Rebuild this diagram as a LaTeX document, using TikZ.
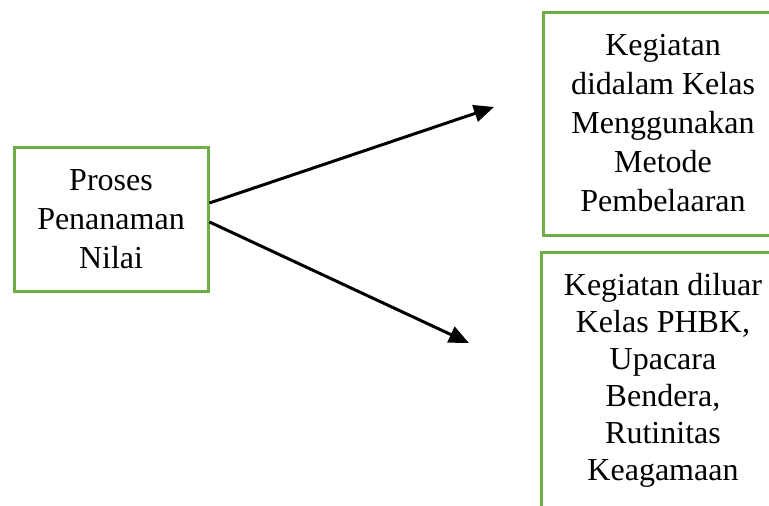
\documentclass[tikz,border=0pt]{standalone}
\usepackage{fontspec}
\setmainfont{Liberation Serif}
\usetikzlibrary{arrows.meta}
\definecolor{hijau}{RGB}{112,173,71}
\begin{document}
\begin{tikzpicture}[x=1pt,y=-1pt,
  kotak/.style={draw=hijau,line width=3pt,align=center,inner sep=0pt,
    font=\fontsize{32}{39}\selectfont},
  panah/.style={line width=3pt,-{Triangle[length=20pt,width=17pt]}}]
  \useasboundingbox (0,0) rectangle (769,506);
  \clip (0,0) rectangle (769,506);
  % kotak
  \node[kotak,minimum width=194pt,minimum height=144pt] (proses) at (111,219)
    {Proses\\Penanaman\\Nilai};
  \node[kotak,minimum width=240pt,minimum height=223pt] (dalam) at (663,123.5)
    {Kegiatan\\didalam Kelas\\Menggunakan\\Metode\\Pembelaaran};
  \node[kotak,minimum width=244pt,minimum height=256pt,
    font=\fontsize{32}{37}\selectfont] (luar) at (663,380)
    {Kegiatan diluar\\Kelas PHBK,\\Upacara\\Bendera,\\Rutinitas\\Keagamaan};
  % panah
  \coordinate (ujung1) at (494,107);
  \coordinate (ujung2) at (469,343);
  \draw[panah] ([yshift=16pt]proses.east) -- (ujung1);
  \draw[panah] ([yshift=-3pt]proses.east) -- (ujung2);
\end{tikzpicture}
\end{document}
